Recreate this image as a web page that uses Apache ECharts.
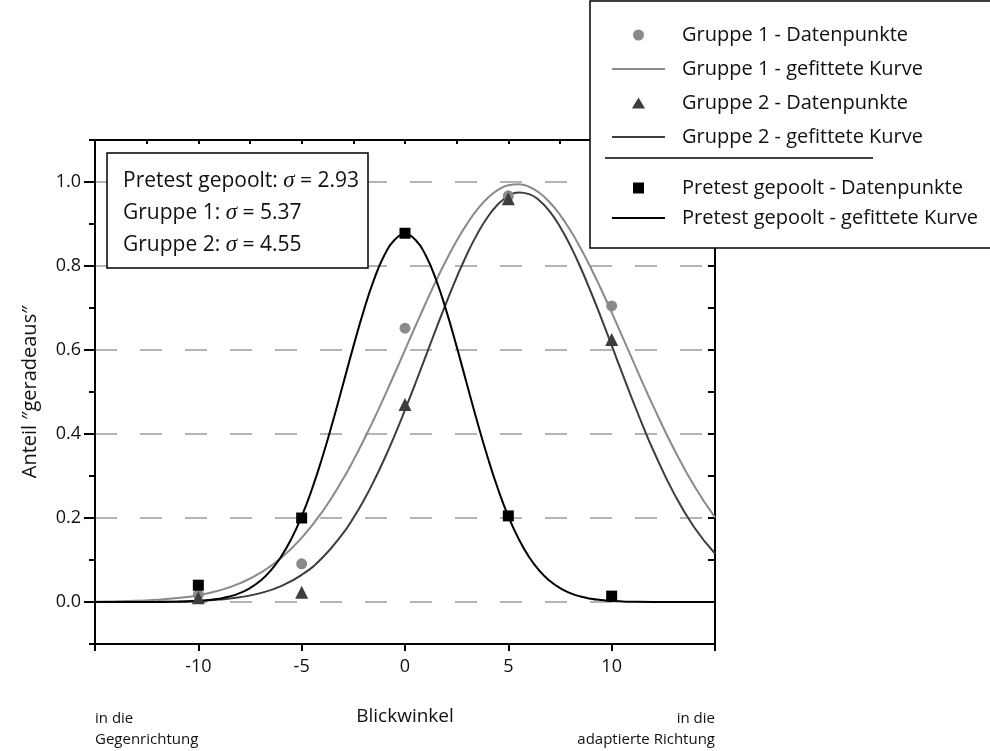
<!DOCTYPE html>
<html>
<head>
<meta charset="utf-8">
<script src="https://cdn.jsdelivr.net/npm/echarts@6/dist/echarts.min.js"></script>
<style>
  html, body { margin: 0; padding: 0; background: #fff; }
  #chart { width: 990px; height: 751px; }
</style>
</head>
<body>
<div id="chart"></div>
<script>
const FONT = '"Open Sans", "Noto Sans", "DejaVu Sans", sans-serif';
const SERIF = '"Liberation Serif", "DejaVu Serif", serif';

// Measured proportions of "geradeaus" answers per gaze angle
const pointAngles = [-10, -5, 0, 5, 10];
const group1Points = [0.018, 0.091, 0.652, 0.967, 0.705];
const group2Points = [0.010, 0.023, 0.470, 0.960, 0.625];
const pretestPoints = [0.040, 0.200, 0.878, 0.205, 0.014];

// Fitted curves of both groups, sampled along the angle axis (denser near the peak)
const curveAngles = [-15, -14, -13, -12, -11, -10, -9, -8, -7, -6, -5, -4, -3,
  -2.5, -2, -1.5, -1, -0.5, 0, 0.5, 1, 1.5, 2, 2.5, 3, 3.5, 4, 4.5, 5, 5.5, 6, 6.5,
  7, 7.5, 8, 8.5, 9, 9.5, 10, 10.5, 11, 11.5, 12, 13, 14, 15];
const group1Curve = [0.0007, 0.0015, 0.0028, 0.0052, 0.0094, 0.0163, 0.0273, 0.0442, 0.0692, 0.1045,
  0.1526, 0.2150, 0.2928,
  0.3372, 0.3850, 0.4358, 0.4891, 0.5441, 0.6001, 0.6562, 0.7113, 0.7643, 0.8143, 0.8600, 0.9004,
  0.9346, 0.9618, 0.9811, 0.9922, 0.9948, 0.9888, 0.9743, 0.9518, 0.9218, 0.8850, 0.8423, 0.7948,
  0.7434, 0.6894, 0.6338, 0.5777, 0.5219,
  0.4676, 0.3655, 0.2760, 0.2013];
const group2Curve = [0.0000, 0.0001, 0.0002, 0.0005, 0.0013, 0.0027, 0.0057, 0.0112, 0.0211, 0.0378,
  0.0646, 0.1053, 0.1634,
  0.1999, 0.2416, 0.2886, 0.3405, 0.3969, 0.4572, 0.5202, 0.5849, 0.6496, 0.7129, 0.7730, 0.8281,
  0.8765, 0.9166, 0.9469, 0.9666, 0.9748, 0.9712, 0.9561, 0.9299, 0.8936, 0.8484, 0.7958, 0.7375,
  0.6753, 0.6109, 0.5460, 0.4821, 0.4206,
  0.3626, 0.2598, 0.1774, 0.1154];

const pretestCurveAngles = [-15, -14, -13, -12, -11, -10.5, -10, -9.5, -9, -8.5, -8, -7.5, -7, -6.5, -6,
  -5.5, -5, -4.5, -4, -3.5, -3, -2.5, -2, -1.5, -1, -0.5, 0, 0.5, 1, 1.5, 2, 2.5, 3, 3.5, 4, 4.5,
  5, 5.5, 6, 6.5, 7, 7.5, 8, 8.5, 9, 9.5, 10, 10.5, 11, 12, 13, 14, 15];
const pretestCurve = [0.0000, 0.0000, 0.0001, 0.0002, 0.0008, 0.0014, 0.0026, 0.0046, 0.0078, 0.0130,
  0.0211, 0.0331, 0.0504, 0.0747, 0.1075, 0.1503, 0.2040, 0.2690, 0.3446, 0.4287, 0.5180,
  0.6080, 0.6932, 0.7675, 0.8255, 0.8624, 0.8750, 0.8624, 0.8255, 0.7675, 0.6932, 0.6080,
  0.5180, 0.4287, 0.3446, 0.2690, 0.2040, 0.1503, 0.1075, 0.0747, 0.0504, 0.0331, 0.0211,
  0.0130, 0.0078, 0.0046, 0.0026, 0.0014, 0.0008, 0.0002, 0.0001, 0.0000, 0.0000];

const yMajorTicks = [0, 0.2, 0.4, 0.6, 0.8, 1.0];

const sigmaNames = ['Pretest gepoolt', 'Gruppe 1', 'Gruppe 2'];
const sigmaValues = ['2.93', '5.37', '4.55'];

const legendGroups = ['Gruppe 1 - Datenpunkte', 'Gruppe 1 - gefittete Kurve',
  'Gruppe 2 - Datenpunkte', 'Gruppe 2 - gefittete Kurve'];
const legendPretest = ['Pretest gepoolt - Datenpunkte', 'Pretest gepoolt - gefittete Kurve'];

const COLOR_G1 = '#8a8a8d';
const COLOR_G2 = '#3c3d40';
const COLOR_PRE = '#000000';

// Legend glyphs as paths so they keep their proportions inside the wide legend slot
const LINE_ICON = 'path://M0,0H53V2H0Z';
const TRIANGLE_ICON = 'path://M0,10L6,0L12,10Z';
const SQUARE_ICON = 'path://M0,0H10V10H0Z';

const zip = (xs, ys) => xs.map((x, i) => [x, ys[i]]);

const axisLineStyle = { color: '#000', width: 2 };
const tickText = { fontFamily: FONT, fontSize: 18, color: '#111' };

const chart = echarts.init(document.getElementById('chart'), null, { renderer: 'canvas' });

const statTexts = sigmaNames.map((name, i) => ({
  type: 'text',
  z: 20,
  x: 123,
  y: 181 + i * 32,
  style: {
    text: '{a|' + name + ': }{s|σ}{a| = ' + sigmaValues[i] + '}',
    verticalAlign: 'middle',
    rich: {
      a: { fontFamily: FONT, fontSize: 21, fill: '#111' },
      s: { fontFamily: SERIF, fontStyle: 'italic', fontSize: 23, fill: '#111' }
    }
  }
}));

const legendCommon = {
  orient: 'vertical',
  left: 607,
  itemWidth: 53,
  itemHeight: 11,
  symbolKeepAspect: true,
  selectedMode: false,
  z: 10,
  textStyle: { fontFamily: FONT, fontSize: 20, color: '#111', lineHeight: 20, padding: [0, 0, 0, 12] }
};

chart.setOption({
  animation: false,
  backgroundColor: '#fff',
  grid: { left: 95, right: 275, top: 140, bottom: 107, containLabel: false, outerBoundsMode: 'none' },
  xAxis: [
    {
      type: 'value', position: 'bottom', min: -15, max: 15, interval: 5,
      axisLine: { show: true, onZero: false, lineStyle: axisLineStyle },
      axisTick: { show: true, length: 7, lineStyle: axisLineStyle },
      axisLabel: Object.assign({ margin: 14, formatter: v => (v === -15 || v === 15) ? '' : String(v) }, tickText),
      splitLine: { show: false },
      name: 'Blickwinkel', nameLocation: 'middle', nameGap: 63,
      nameTextStyle: { fontFamily: FONT, fontSize: 19, color: '#111' }
    },
    {
      type: 'value', position: 'top', min: -15, max: 15, interval: 2.5,
      axisLine: { show: true, onZero: false, lineStyle: axisLineStyle },
      axisTick: { show: true, inside: true, length: 4, lineStyle: axisLineStyle },
      axisLabel: { show: false },
      splitLine: { show: false }
    }
  ],
  yAxis: [
    {
      type: 'value', position: 'left', min: -0.1, max: 1.1, interval: 0.1,
      axisLine: { show: true, onZero: false, lineStyle: axisLineStyle },
      axisTick: { show: true, length: 6, lineStyle: axisLineStyle },
      axisLabel: Object.assign({
        margin: 14,
        formatter: v => {
          const k = Math.round(v * 10);
          return (k >= 0 && k <= 10 && k % 2 === 0) ? (k / 10).toFixed(1) : '';
        }
      }, tickText),
      splitLine: {
        show: true,
        lineStyle: { color: ['rgba(0,0,0,0)', '#b4b4b4'], width: 2, type: [22, 23] }
      },
      name: 'Anteil \u2033geradeaus\u2033', nameLocation: 'middle', nameGap: 55,
      nameTextStyle: { fontFamily: FONT, fontSize: 20, color: '#111' }
    },
    {
      type: 'value', position: 'left', min: -0.1, max: 1.1,
      axisLine: { show: false, onZero: false },
      axisTick: { show: true, length: 11, customValues: yMajorTicks, lineStyle: axisLineStyle },
      axisLabel: { show: false },
      splitLine: { show: false }
    },
    {
      type: 'value', position: 'right', min: -0.1, max: 1.1, interval: 0.1,
      axisLine: { show: true, onZero: false, lineStyle: axisLineStyle },
      axisTick: { show: true, inside: true, length: 7, lineStyle: axisLineStyle },
      axisLabel: { show: false },
      splitLine: { show: false }
    }
  ],
  legend: [
    Object.assign({
      top: 20, itemGap: 14,
      data: [
        { name: legendGroups[0], icon: 'circle' },
        { name: legendGroups[1], icon: LINE_ICON },
        { name: legendGroups[2], icon: TRIANGLE_ICON },
        { name: legendGroups[3], icon: LINE_ICON }
      ]
    }, legendCommon),
    Object.assign({
      top: 173, itemGap: 10,
      data: [
        { name: legendPretest[0], icon: SQUARE_ICON },
        { name: legendPretest[1], icon: LINE_ICON }
      ]
    }, legendCommon)
  ],
  graphic: [
    { type: 'rect', z: 5, shape: { x: 590, y: 1, width: 430, height: 247 },
      style: { fill: '#fff', stroke: '#000', lineWidth: 1.5 } },
    { type: 'line', z: 6, shape: { x1: 605, y1: 158, x2: 873, y2: 158 },
      style: { stroke: '#000', lineWidth: 1.5 } },
    { type: 'rect', z: 5, shape: { x: 107, y: 153, width: 261, height: 115 },
      style: { fill: '#fff', stroke: '#000', lineWidth: 1.5 } },
    ...statTexts,
    { type: 'text', z: 6, x: 95, y: 708,
      style: { text: 'in die\nGegenrichtung', fontFamily: FONT, fontSize: 15, lineHeight: 21, fill: '#111', align: 'left' } },
    { type: 'text', z: 6, x: 715, y: 708,
      style: { text: 'in die\nadaptierte Richtung', fontFamily: FONT, fontSize: 15, lineHeight: 21, fill: '#111', align: 'right' } }
  ],
  series: [
    {
      name: legendGroups[1], type: 'line', smooth: 0.5, symbol: 'none', z: 2,
      data: zip(curveAngles, group1Curve),
      lineStyle: { color: COLOR_G1, width: 2 }, itemStyle: { color: COLOR_G1 }
    },
    {
      name: legendGroups[3], type: 'line', smooth: 0.5, symbol: 'none', z: 2,
      data: zip(curveAngles, group2Curve),
      lineStyle: { color: COLOR_G2, width: 2 }, itemStyle: { color: COLOR_G2 }
    },
    {
      name: legendPretest[1], type: 'line', smooth: 0.5, symbol: 'none', z: 2,
      data: zip(pretestCurveAngles, pretestCurve),
      lineStyle: { color: COLOR_PRE, width: 2 }, itemStyle: { color: COLOR_PRE }
    },
    {
      name: legendGroups[0], type: 'scatter', symbol: 'circle', symbolSize: 11, z: 3,
      data: zip(pointAngles, group1Points), itemStyle: { color: COLOR_G1, opacity: 1 }
    },
    {
      name: legendGroups[2], type: 'scatter', symbol: 'triangle', symbolSize: 13, z: 3,
      data: zip(pointAngles, group2Points), itemStyle: { color: COLOR_G2, opacity: 1 }
    },
    {
      name: legendPretest[0], type: 'scatter', symbol: 'rect', symbolSize: 11, z: 3,
      data: zip(pointAngles, pretestPoints), itemStyle: { color: COLOR_PRE, opacity: 1 }
    }
  ]
});
</script>
</body>
</html>
